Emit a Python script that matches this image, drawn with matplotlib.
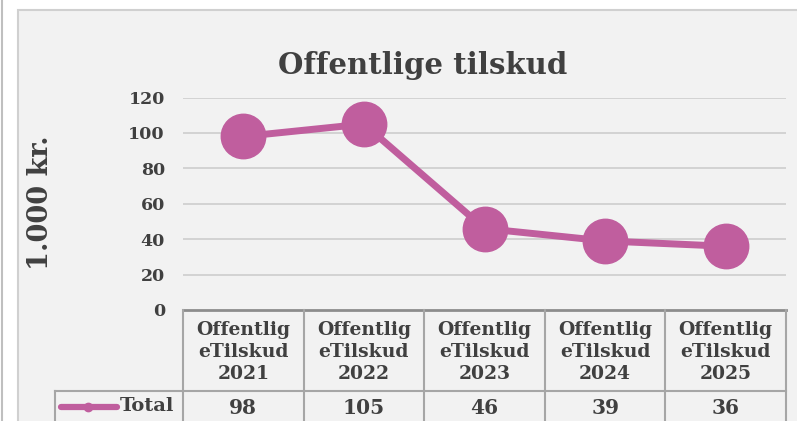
import matplotlib
matplotlib.use("Agg")
import matplotlib.pyplot as plt
from matplotlib.patches import Rectangle
from matplotlib.lines import Line2D

categories = ["Offentlig\neTilskud\n2021", "Offentlig\neTilskud\n2022", "Offentlig\neTilskud\n2023",
              "Offentlig\neTilskud\n2024", "Offentlig\neTilskud\n2025"]
values = [98, 105, 46, 39, 36]
series_name = "Total"
title = "Offentlige tilskud"
ylabel = "1.000 kr."
yticks = [0, 20, 40, 60, 80, 100, 120]

W, H = 797, 421
color = "#C05E9E"
txt = "#404040"
font = "DejaVu Serif"

fig = plt.figure(figsize=(W / 100, H / 100), dpi=100)
fig.patch.set_facecolor("white")

def fx(px):
    return px / W

def fy(py):
    return 1 - py / H

# outer grey line at left
fig.add_artist(Line2D([fx(2), fx(2)], [0, 1], color="#BFBFBF", lw=1.5, transform=fig.transFigure))
# chart area
fig.add_artist(Rectangle((fx(18), fy(430)), fx(800 - 18), fy(10) - fy(430), transform=fig.transFigure,
                         facecolor="#F2F2F2", edgecolor="#D0D0D0", lw=1.5, zorder=0))

left, right, top, bottom = 183, 786, 97.5, 310
ax = fig.add_axes([fx(left), fy(bottom), fx(right - left), fy(top) - fy(bottom)])
ax.set_facecolor("none")
n = len(values)
x = list(range(n))
ax.set_xlim(-0.5, n - 0.5)
ax.set_ylim(0, 120)
ax.set_yticks(yticks)
ax.set_yticklabels([str(t) for t in yticks], fontfamily=font, fontweight="bold", fontsize=12.5, color=txt)
ax.tick_params(axis="y", length=0, pad=13)
ax.set_xticks([])
for s in ax.spines.values():
    s.set_visible(False)
for t in yticks[1:]:
    ax.axhline(t, color="#D0D0D0", lw=1.3, zorder=1)
ax.plot(x, values, color=color, lw=5, marker="o", markersize=32, clip_on=False, zorder=3)

fig.text(fx(423), fy(66), title, ha="center", va="center", fontfamily=font, fontweight="bold",
         fontsize=21, color=txt)
fig.text(fx(41), fy(203), ylabel, ha="center", va="center", rotation=90, fontfamily=font,
         fontweight="bold", fontsize=19.5, color=txt)

# data table
row_top, row_mid, row_bot = 310, 391, 440
cols = [left + (right - left) * i / n for i in range(n + 1)]
gc = "#A6A6A6"
def hline(x0, x1, y, c=gc, lw=1.5):
    fig.add_artist(Line2D([fx(x0), fx(x1)], [fy(y), fy(y)], color=c, lw=lw, transform=fig.transFigure))
def vline(xp, y0, y1, c=gc, lw=1.5):
    fig.add_artist(Line2D([fx(xp), fx(xp)], [fy(y0), fy(y1)], color=c, lw=lw, transform=fig.transFigure))

hline(left, right, row_top, c="#8C8C8C", lw=2)
hline(55, right, row_mid)
for cx in cols:
    vline(cx, row_top, row_bot)
vline(55, row_mid, row_bot)

for i in range(n):
    cx = (cols[i] + cols[i + 1]) / 2
    fig.text(fx(cx), fy(352), categories[i], ha="center", va="center",
             fontfamily=font, fontweight="bold", fontsize=13.5, color=txt, linespacing=1.3)
    fig.text(fx(cx), fy(408), str(values[i]), ha="center", va="center",
             fontfamily=font, fontweight="bold", fontsize=14.5, color=txt)

fig.add_artist(Line2D([fx(61), fx(117)], [fy(407), fy(407)], color=color, lw=4.5,
                      solid_capstyle="round", transform=fig.transFigure))
fig.add_artist(Line2D([fx(88)], [fy(407)], color=color, marker="o", markersize=6,
                      transform=fig.transFigure))
fig.text(fx(120), fy(406), series_name, ha="left", va="center", fontfamily=font,
         fontweight="bold", fontsize=14, color=txt)

fig.savefig("out.png", dpi=100, facecolor=fig.get_facecolor())
